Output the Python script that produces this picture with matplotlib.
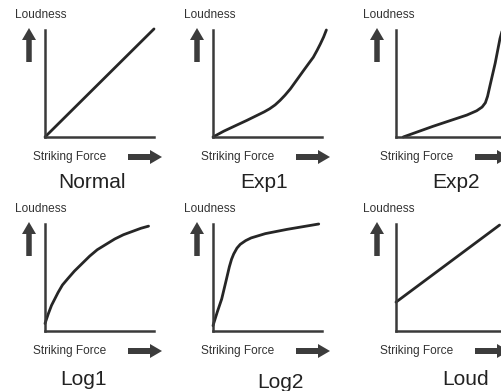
import matplotlib
matplotlib.use("Agg")
import matplotlib.pyplot as plt
from matplotlib.patches import FancyArrow
from matplotlib.transforms import Affine2D

plt.rcParams['font.family'] = ['Liberation Sans', 'DejaVu Sans']

# ---- data: velocity curves (striking force -> loudness, both 0..1) ----
curve_names = ["Normal", "Exp1", "Exp2", "Log1", "Log2", "Loud"]

normal_force = [0.0, 1.0]
normal_loud = [0.0, 1.01]

exp1_force = [0.0, 0.10, 0.215, 0.31, 0.40, 0.47, 0.52, 0.57, 0.615, 0.66,
              0.71, 0.77, 0.83, 0.88, 0.92, 0.955, 0.985, 1.015, 1.04]
exp1_loud = [0.0, 0.055, 0.11, 0.155, 0.20, 0.235, 0.264, 0.30, 0.342, 0.39,
             0.45, 0.535, 0.62, 0.69, 0.745, 0.81, 0.87, 0.935, 1.0]

exp2_force = [0.066, 0.34, 0.65, 0.74, 0.79, 0.82, 0.84, 0.86, 0.91, 0.954, 0.976]
exp2_loud = [0.0, 0.10, 0.205, 0.245, 0.28, 0.32, 0.38, 0.47, 0.69, 0.92, 1.0]

log1_force = [0.0, 0.03, 0.06, 0.09, 0.12, 0.16, 0.21, 0.27, 0.34, 0.41,
              0.48, 0.56, 0.64, 0.72, 0.80, 0.88, 0.95]
log1_loud = [0.07, 0.16, 0.24, 0.30, 0.36, 0.43, 0.49, 0.56, 0.63, 0.70,
             0.76, 0.81, 0.86, 0.90, 0.93, 0.96, 0.98]

log2_force = [0.0, 0.04, 0.08, 0.12, 0.15, 0.17, 0.19, 0.22, 0.25, 0.30,
              0.35, 0.48, 0.68, 0.97]
log2_loud = [0.05, 0.18, 0.30, 0.47, 0.60, 0.67, 0.72, 0.775, 0.81, 0.845,
             0.87, 0.91, 0.95, 1.0]

loud_force = [0.0, 0.95]
loud_loud = [0.27, 0.99]

x_label = "Striking Force"
y_label = "Loudness"

curves = [
    (normal_force, normal_loud),
    (exp1_force, exp1_loud),
    (exp2_force, exp2_loud),
    (log1_force, log1_loud),
    (log2_force, log2_loud),
    (loud_force, loud_loud),
]

# ---- layout (pixels, origin top-left) ----
W, H = 502, 391
AX_W, AX_H = 109, 107
col_x = [45, 213, 396]          # y-axis position of each column
row_bottom = [137, 331]         # x-axis position of each row
up_arrow_x = [29, 197, 377]
right_arrow_x0 = [128, 296, 475]
ylab_x = [15, 184, 363]
xlab_x = [33, 201, 380]
title_x = [[58, 240, 432], [60, 257, 442]]
title_base = [[188, 188, 188], [385, 388, 385]]

LINE = "#262626"
AXIS = "#3a3a3a"
ARROW = "#3c3c3c"
TEXT = "#333333"

fig = plt.figure(figsize=(W / 100, H / 100), dpi=100)
fig.patch.set_facecolor("white")
px = Affine2D().scale(1, -1).translate(0, H)

for i, (name, (fx, ly)) in enumerate(zip(curve_names, curves)):
    r, c = divmod(i, 3)
    x0, yb = col_x[c], row_bottom[r]
    ax = fig.add_axes([x0 / W, 1 - yb / H, AX_W / W, AX_H / H])
    ax.set_xlim(0, 1)
    ax.set_ylim(0, 1)
    ax.patch.set_visible(False)
    for s in ("top", "right"):
        ax.spines[s].set_visible(False)
    for s in ("left", "bottom"):
        ax.spines[s].set_linewidth(1.8)
        ax.spines[s].set_color(AXIS)
        ax.spines[s].set_clip_on(False)
    ax.set_xticks([])
    ax.set_yticks([])
    ax.plot(fx, ly, color=LINE, lw=2.0, clip_on=False,
            solid_capstyle="round", solid_joinstyle="round")

    top = yb - AX_H
    # "Loudness" label and upward arrow
    fig.text(ylab_x[c], top - 12, y_label, transform=px, fontsize=8.6,
             color=TEXT, ha="left", va="baseline")
    fig.add_artist(FancyArrow(up_arrow_x[c], top + 32, 0, -34, width=5.5,
                              head_width=14, head_length=12,
                              length_includes_head=True, transform=px,
                              color=ARROW, lw=0))
    # "Striking Force" label and rightward arrow
    fig.text(xlab_x[c], yb + 23, x_label, transform=px, fontsize=8.6,
             color=TEXT, ha="left", va="baseline")
    fig.add_artist(FancyArrow(right_arrow_x0[c], yb + 20, 34, 0, width=6,
                              head_width=14, head_length=12,
                              length_includes_head=True, transform=px,
                              color=ARROW, lw=0))
    # curve name
    fig.text(title_x[r][c], title_base[r][c], name, transform=px,
             fontsize=15, color="#222222", ha="left", va="baseline")

fig.savefig("out.png", dpi=100, facecolor="white")
